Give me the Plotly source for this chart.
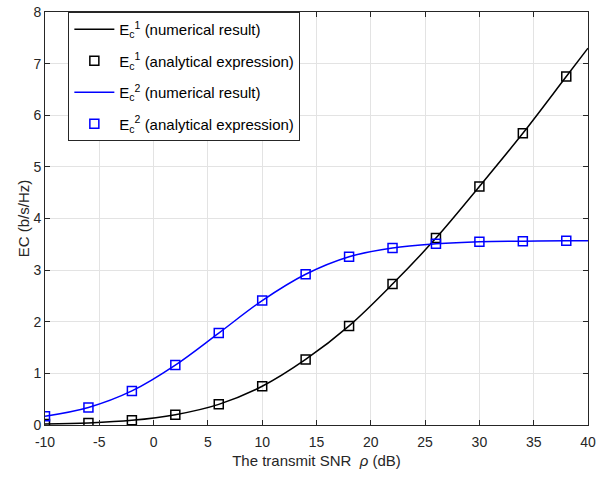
import plotly.graph_objects as go

snr_db = [-10, -6, -2, 2, 6, 10, 14, 18, 22, 26, 30, 34, 38]
ec1 = [0.02, 0.04, 0.09, 0.20, 0.40, 0.75, 1.27, 1.92, 2.73, 3.62, 4.62, 5.65, 6.75]
ec2 = [0.17, 0.34, 0.66, 1.16, 1.78, 2.41, 2.92, 3.26, 3.43, 3.51, 3.55, 3.56, 3.57]
snr_line = snr_db + [40]
ec1_line = ec1 + [7.30]
ec2_line = ec2 + [3.57]

x_ticks = [-10, -5, 0, 5, 10, 15, 20, 25, 30, 35, 40]
y_ticks = [0, 1, 2, 3, 4, 5, 6, 7, 8]

fig = go.Figure()
fig.add_trace(go.Scatter(x=snr_line, y=ec1_line, mode="lines", line=dict(color="black", width=1.5, shape="spline"),
                         name="E<sub>c</sub><sup>1</sup> (numerical result)", legendgroup="a"))
fig.add_trace(go.Scatter(x=snr_db, y=ec1, mode="markers",
                         marker=dict(symbol="square-open", size=9, color="black", line=dict(width=1.5)),
                         name="E<sub>c</sub><sup>1</sup> (analytical expression)", legendgroup="b"))
fig.add_trace(go.Scatter(x=snr_line, y=ec2_line, mode="lines", line=dict(color="#0000ff", width=1.5, shape="spline"),
                         name="E<sub>c</sub><sup>2</sup> (numerical result)", legendgroup="c"))
fig.add_trace(go.Scatter(x=snr_db, y=ec2, mode="markers",
                         marker=dict(symbol="square-open", size=9, color="#0000ff", line=dict(width=1.5)),
                         name="E<sub>c</sub><sup>2</sup> (analytical expression)", legendgroup="d"))

axis_common = dict(showgrid=True, gridcolor="#e3e3e3", gridwidth=1, zeroline=False,
                   showline=True, linecolor="#262626", linewidth=1, mirror="ticks",
                   ticks="inside", ticklen=5, tickcolor="#262626", ticklabeloverflow="allow",
                   tickfont=dict(family="Liberation Sans, Arial", size=14, color="#262626"))

fig.update_layout(
    width=612, height=484,
    margin=dict(l=45, r=24, t=4, b=59),
    paper_bgcolor="white", plot_bgcolor="white",
    font=dict(family="Liberation Sans, Arial", size=14, color="#262626"),
    xaxis=dict(range=[-10, 40], tickvals=x_ticks, ticktext=[str(v) for v in x_ticks], ticklabelstandoff=4,
               title=dict(text="The transmit SNR  <i>ρ</i> (dB)", standoff=6, font=dict(size=15)), **axis_common),
    yaxis=dict(range=[0, 8], tickvals=y_ticks, ticktext=[str(v) for v in y_ticks],
               title=dict(text="EC (b/s/Hz)", standoff=0, font=dict(size=15)), **axis_common),
    legend=dict(x=0.043, y=1.0, xanchor="left", yanchor="top",
                bgcolor="white", bordercolor="#262626", borderwidth=1,
                font=dict(family="Liberation Sans, Arial", size=15, color="black"),
                tracegroupgap=9, itemwidth=40),
    showlegend=True,
)

fig.write_html("out.html")
